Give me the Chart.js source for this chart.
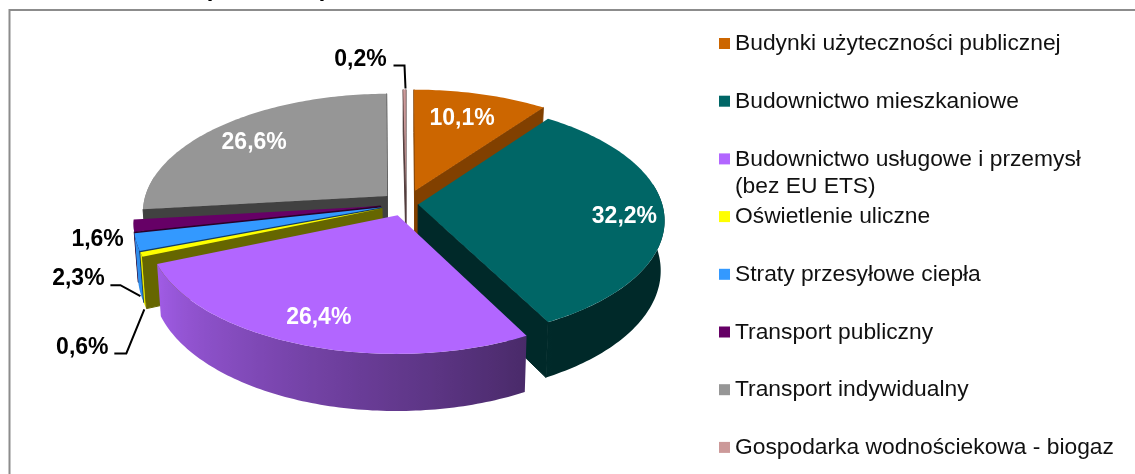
<!DOCTYPE html>
<html>
<head>
<meta charset="utf-8">
<style>
  html, body { margin: 0; padding: 0; background: #fff; }
  #wrap { width: 1135px; height: 474px; }
</style>
<script src="https://cdn.jsdelivr.net/npm/chart.js@4"></script>
</head>
<body>
<div id="wrap"><canvas id="chart" width="1135" height="474"></canvas></div>
<script>
const categories = [
  'Budynki użyteczności publicznej',
  'Budownictwo mieszkaniowe',
  ['Budownictwo usługowe i przemysł', '(bez EU ETS)'],
  'Oświetlenie uliczne',
  'Straty przesyłowe ciepła',
  'Transport publiczny',
  'Transport indywidualny',
  'Gospodarka wodnościekowa - biogaz',
];
const shares = [10.1, 32.2, 26.4, 0.6, 2.3, 1.6, 26.6, 0.2];
const colors = ['#CC6600', '#006666', '#B266FF', '#FFFF00', '#3399FF', '#660066', '#969696', '#CC9999'];

// how far each slice is pulled out, as a fraction of the radius
const explode = [0.12, 0.05, 0.10, 0.105, 0.105, 0.105, 0.104, 0.115];
// back to front
const drawOrder = [6, 7, 0, 5, 4, 3, 1, 2];
// brightness of the cut faces
const faceShade = [0.63, 0.4, 0.4, 0.4, 0.4, 0.4, 0.43, 0.4];

const TILT = 0.4816;
const PERSP = 0.13;
const DEPTH = 49;
const BOTTOM_SHRINK = 0.985;
const DEG = Math.PI / 180;

const pct = (v) => v.toFixed(1).replace('.', ',') + '%';

// slice angle measured clockwise from 12 o'clock
const clock = (a) => a + Math.PI / 2;

function project(arc, theta, r, ex, down) {
  const mid = clock((arc.startAngle + arc.endAngle) / 2);
  const u = r * Math.sin(theta) + ex * Math.sin(mid);
  const v = -(r * Math.cos(theta) + ex * Math.cos(mid));
  const s = 1 / (1 - PERSP * v);
  const R = arc.outerRadius;
  const x = u * R * s * (down ? BOTTOM_SHRINK : 1);
  return { x: arc.x + x, y: arc.y + v * R * TILT * s + (down ? DEPTH * s : 0) };
}

function shade(hex, f) {
  const n = parseInt(hex.slice(1), 16);
  const c = [n >> 16, (n >> 8) & 255, n & 255].map((x) => Math.round(x * f));
  return `rgb(${c[0]},${c[1]},${c[2]})`;
}

function fillShape(ctx, pts, color, edge) {
  ctx.fillStyle = color;
  ctx.beginPath();
  pts.forEach((p, i) => (i ? ctx.lineTo(p.x, p.y) : ctx.moveTo(p.x, p.y)));
  ctx.closePath();
  ctx.fill();
  if (edge) {
    ctx.strokeStyle = color;
    ctx.lineWidth = 1;
    ctx.stroke();
  }
}

function rimShade(theta) {
  const deg = theta / DEG;
  return 0.4 + 0.52 * Math.max(0, Math.min(1, (deg - 150) / 100));
}

function drawSlice(ctx, arc, i) {
  const a0 = clock(arc.startAngle);
  const a1 = clock(arc.endAngle);
  const ex = explode[i];
  const color = colors[i];
  const top = (t, r) => project(arc, t, r, ex, false);
  const bot = (t, r) => project(arc, t, r, ex, true);

  // outer wall, only the part turned to the viewer
  const w0 = Math.max(a0, 80 * DEG);
  const w1 = Math.min(a1, 280 * DEG);
  if (w1 > w0) {
    const n = Math.max(2, Math.ceil((w1 - w0) / DEG));
    const angles = [];
    for (let k = 0; k <= n; k++) angles.push(w0 + (w1 - w0) * k / n);
    const tops = angles.map((t) => top(t, 1));
    const bots = angles.map((t) => bot(t, 1));
    const xs = tops.map((p) => p.x);
    const minX = Math.min(...xs);
    const maxX = Math.max(...xs);
    let paint = color;
    if (maxX - minX > 1) {
      paint = ctx.createLinearGradient(minX, 0, maxX, 0);
      // walk the front only, the gradient runs on x
      angles.filter((t) => t >= 150 * DEG).forEach((t) => {
        const x = top(t, 1).x;
        paint.addColorStop(Math.max(0, Math.min(1, (x - minX) / (maxX - minX))), shade(color, rimShade(t)));
      });
      if (a0 < 150 * DEG && a1 < 150 * DEG) paint = shade(color, rimShade(a1));
    } else {
      paint = shade(color, rimShade(w0));
    }
    fillShape(ctx, tops.concat(bots.reverse()), paint);
  }

  // cut faces, drawn when they look towards the viewer
  const faceColor = shade(color, faceShade[i]);
  if (Math.cos(a0 - Math.PI / 2) < 0.02) {
    fillShape(ctx, [top(a0, 0), top(a0, 1), bot(a0, 1), bot(a0, 0)], faceColor, true);
  }
  if (Math.cos(a1 + Math.PI / 2) < 0.02) {
    fillShape(ctx, [top(a1, 0), top(a1, 1), bot(a1, 1), bot(a1, 0)], faceColor, true);
  }

  const steps = Math.max(2, Math.ceil((a1 - a0) / DEG));
  const pts = [top(a0, 0)];
  for (let k = 0; k <= steps; k++) pts.push(top(a0 + (a1 - a0) * k / steps, 1));
  fillShape(ctx, pts, color);
}

// outside labels and their leaders, relative to the slice rim middle
const outsideLabels = {
  3: { dx: -59, dy: 93, leader: [[-27, 99], [-15, 99], [3, 55]] },
  4: { dx: -58, dy: 36, leader: [[-26, 43], [-16, 43], [4, 54]] },
  5: { dx: -36, dy: 14 },
  7: { dx: -44, dy: -30, leader: [[-11, -24], [0, -24], [1, -1]] },
};
// inside labels: fraction of the radius along the slice middle, then a nudge
const insideLabels = {
  0: { r: 0.58, dx: 7, dy: -13 },
  1: { r: 0.86, dx: -5, dy: 5 },
  2: { r: 0.62, dx: -22, dy: 26 },
  6: { r: 0.72, dx: -11, dy: -2 },
};

const pie3d = {
  id: 'pie3d',
  beforeDatasetsDraw(chart) {
    const { ctx } = chart;
    const arcs = chart.getDatasetMeta(0).data;
    ctx.save();
    drawOrder.forEach((i) => drawSlice(ctx, arcs[i], i));

    ctx.textAlign = 'center';
    ctx.textBaseline = 'middle';
    ctx.font = 'bold 23px "Liberation Sans", Arial, sans-serif';
    shares.forEach((v, i) => {
      const arc = arcs[i];
      const mid = clock((arc.startAngle + arc.endAngle) / 2);
      const inside = insideLabels[i];
      if (inside) {
        const p = project(arc, mid, inside.r, explode[i], false);
        ctx.fillStyle = '#fff';
        ctx.fillText(pct(v), p.x + inside.dx, p.y + inside.dy);
      } else {
        const l = outsideLabels[i];
        const p = project(arc, mid, 1, explode[i], false);
        ctx.fillStyle = '#000';
        ctx.fillText(pct(v), p.x + l.dx, p.y + l.dy);
        if (l.leader) {
          ctx.strokeStyle = '#000';
          ctx.lineWidth = 2;
          ctx.beginPath();
          l.leader.forEach((q, k) => {
            if (k) ctx.lineTo(p.x + q[0], p.y + q[1]);
            else ctx.moveTo(p.x + q[0], p.y + q[1]);
          });
          ctx.stroke();
        }
      }
    });
    ctx.restore();
    return false;
  },
};

// legend rows: same step for every entry, the wrapped one just hangs a line below
const sideLegend = {
  id: 'sideLegend',
  afterDraw(chart) {
    const { ctx } = chart;
    const left = 719;
    const textX = 735;
    const first = 44;
    const step = 57.7;
    ctx.save();
    ctx.font = '22.8px "Liberation Sans", Arial, sans-serif';
    ctx.textBaseline = 'middle';
    categories.forEach((name, i) => {
      const y = first + step * i;
      ctx.fillStyle = colors[i];
      ctx.fillRect(left, y - 6, 11, 11);
      ctx.fillStyle = '#111';
      [].concat(name).forEach((line, k) => ctx.fillText(line, textX, y + k * 27));
    });
    ctx.restore();
  },
};

// page frame and the bottom of the title that the crop cut off
const frame = {
  id: 'frame',
  beforeDraw(chart) {
    const { ctx } = chart;
    ctx.save();
    ctx.strokeStyle = '#8c8c8c';
    ctx.lineWidth = 2;
    ctx.strokeRect(9.5, 10, 1200, 600);
    ctx.fillStyle = '#000';
    ctx.font = 'bold 24px "Liberation Sans", Arial, sans-serif';
    ctx.textAlign = 'center';
    ctx.textBaseline = 'alphabetic';
    ctx.fillText('(', 208, -4.5);
    ctx.fillText(')', 324, -4.5);
    ctx.restore();
  },
};

new Chart(document.getElementById('chart'), {
  type: 'pie',
  data: {
    labels: categories,
    datasets: [{ data: shares, backgroundColor: colors, radius: 244, borderWidth: 0 }],
  },
  options: {
    responsive: false,
    animation: false,
    layout: { padding: { left: 162, right: 485, top: 0, bottom: 66 } },
    plugins: { legend: { display: false }, tooltip: { enabled: false } },
  },
  plugins: [frame, pie3d, sideLegend],
});
</script>
</body>
</html>
